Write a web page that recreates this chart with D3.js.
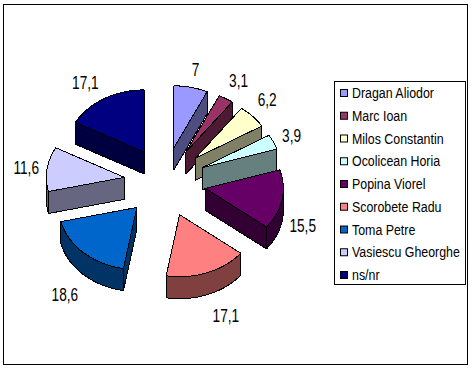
<!DOCTYPE html>
<html>
<head>
<meta charset="utf-8">
<script src="https://cdn.jsdelivr.net/npm/d3@7"></script>
<style>
    html, body { margin: 0; padding: 0; background: #fff; }
    svg { display: block; }
    text { font-family: "Liberation Sans", Arial, sans-serif; fill: #000; }
</style>
</head>
<body>
<script>
let names = ["Dragan Aliodor", "Marc Ioan", "Milos Constantin", "Ocolicean Horia", "Popina Viorel",
    "Scorobete Radu", "Toma Petre", "Vasiescu Gheorghe", "ns/nr"];
let values = [7, 3.1, 6.2, 3.9, 15.5, 17.1, 18.6, 11.6, 17.1];
let labels = ["7", "3,1", "6,2", "3,9", "15,5", "17,1", "18,6", "11,6", "17,1"];
let colors = ["#9999ff", "#993366", "#ffffcc", "#ccffff", "#660066", "#ff8080", "#0066cc", "#ccccff", "#000080"];
let sideColors = ["#4d4d80", "#4d1a33", "#808066", "#668080", "#330033", "#804040", "#003366", "#666680", "#000040"];

let w = 472;
let h = 369;

let svg = d3.select("body")
    .append("svg")
    .attr("width", w)
    .attr("height", h);

// outer frame
svg.append("rect")
    .attr("x", 3.5).attr("y", 4.5)
    .attr("width", 464).attr("height", 360)
    .attr("fill", "#fff").attr("stroke", "#000");

/************** pie geometry **************/
let cx = 165, cy = 182;     // centre of the whole pie
let rx = 78, ry = 62;       // tilted, so an ellipse
let ex = 41, ey = 35;       // how far the slices are pulled out
let depth = 22;

let xScale = d3.scaleLinear().domain([-1, 1]).range([cx - rx, cx + rx]);
let yScale = d3.scaleLinear().domain([-1, 1]).range([cy - ry, cy + ry]);

let slices = d3.pie().sort(null).value(function(d) { return d; })(values)
    .map(function(d, i) {
        d.i = i;
        d.mid = (d.startAngle + d.endAngle) / 2;
        d.dx = ex * Math.sin(d.mid);
        d.dy = -ey * Math.cos(d.mid);
        return d;
    });

// angle is clockwise from 12 o'clock, like d3.pie gives it
function rim(d, a, drop) {
    return [xScale(Math.sin(a)) + d.dx, yScale(-Math.cos(a)) + d.dy + drop];
}
function apex(d, drop) {
    return [xScale(0) + d.dx, yScale(0) + d.dy + drop];
}
function arcPoints(d, a0, a1, drop) {
    let n = Math.max(2, Math.ceil((a1 - a0) / 0.03));
    return d3.range(n + 1).map(function(k) {
        return rim(d, a0 + (a1 - a0) * k / n, drop);
    });
}

let line = d3.line().curve(d3.curveLinearClosed);
let pieG = svg.append("g")
    .attr("stroke", "#000")
    .attr("stroke-width", 1)
    .attr("stroke-linejoin", "round")
    .attr("shape-rendering", "crispEdges");     // reference edges are not smoothed

// back slices first so the front ones cover them
let order = slices.slice().sort(function(a, b) {
    return d3.descending(Math.cos(a.mid), Math.cos(b.mid));
});

order.forEach(function(d) {
    let g = pieG.append("g");
    let side = sideColors[d.i];

    // the cut faces
    [d.startAngle, d.endAngle].forEach(function(a, k) {
        let visible = k == 0 ? Math.sin(a) < 0 : Math.sin(a) > 0;
        if (!visible) return;
        g.append("path").attr("fill", side).attr("d", line([
            apex(d, 0), rim(d, a, 0), rim(d, a, depth), apex(d, depth)
        ]));
    });

    // rounded outer wall, only on the front half
    let a0 = Math.max(d.startAngle, Math.PI / 2);
    let a1 = Math.min(d.endAngle, Math.PI * 3 / 2);
    if (a1 > a0) {
        g.append("path").attr("fill", side).attr("d", line(
            arcPoints(d, a0, a1, 0).concat(arcPoints(d, a0, a1, depth).reverse())
        ));
    }

    // top face
    g.append("path").attr("fill", colors[d.i]).attr("d", line(
        [apex(d, 0)].concat(arcPoints(d, d.startAngle, d.endAngle, 0))
    ));
});

/************** value labels **************/
let labelK = 1.27;
// hand nudges, the labels dont sit exactly on a radius
let nudgeX = [0, 2, -1, -1, 0, 11, -4, 0, -8];
let nudgeY = [-2, -4, -6, 0, -4, 1, 3, 0, -2];
slices.forEach(function(d) {
    let x = cx + (ex + rx * labelK) * Math.sin(d.mid) + nudgeX[d.i];
    let y = cy - (ey + ry * labelK) * Math.cos(d.mid) + nudgeY[d.i];
    if (Math.cos(d.mid) < 0) y += depth + 4;
    svg.append("text")
        .attr("transform", "translate(" + x + "," + (y + 7) + ") scale(0.72,1)")
        .attr("text-anchor", "middle")
        .attr("font-size", 19)
        .text(labels[d.i]);
});

/************** legend **************/
svg.append("rect")
    .attr("x", 334.5).attr("y", 81.5)
    .attr("width", 131).attr("height", 203)
    .attr("fill", "#fff").attr("stroke", "#000");

let legendY = d3.scalePoint().domain(names).range([93, 275]);

let legend = svg.selectAll(".legend")
    .data(names)
    .enter()
    .append("g")
    .attr("class", "legend")
    .attr("transform", function(d) { return "translate(340," + legendY(d) + ")"; });

legend.append("rect")
    .attr("x", 0.5).attr("y", -3.5)
    .attr("width", 7).attr("height", 7)
    .attr("fill", function(d, i) { return colors[i]; })
    .attr("stroke", "#000");

legend.append("text")
    .attr("transform", "translate(12,5) scale(0.8,1)")
    .attr("font-size", 15.5)
    .text(function(d) { return d; });
</script>
</body>
</html>
